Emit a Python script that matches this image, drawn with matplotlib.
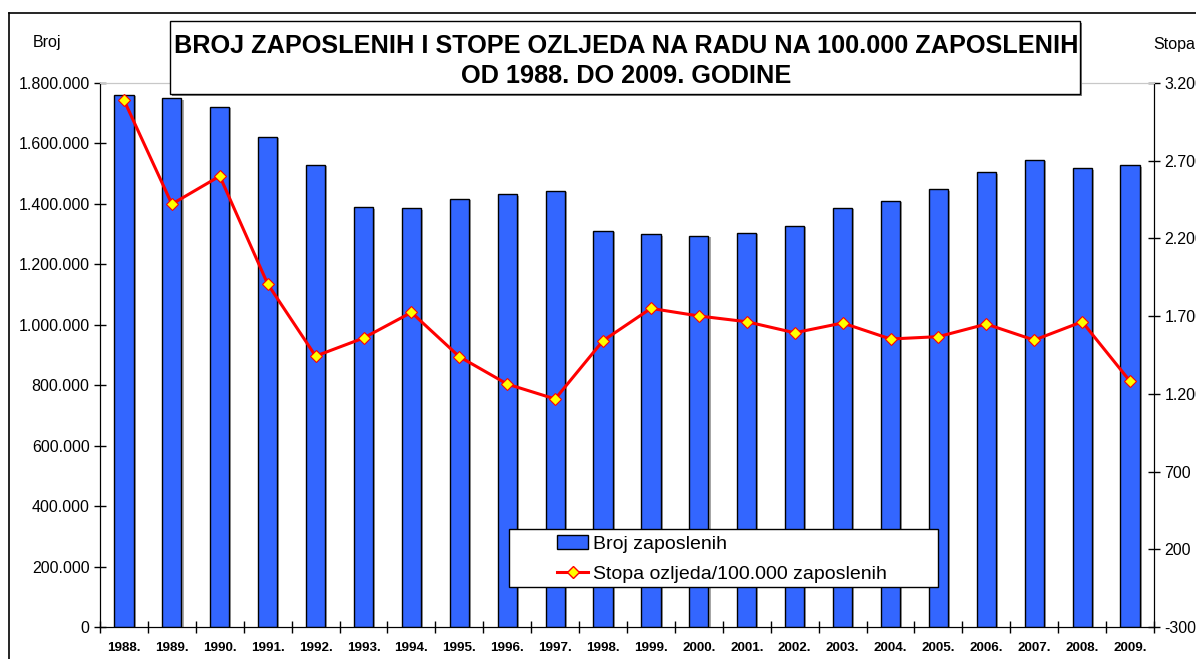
import matplotlib.pyplot as plt
import matplotlib.patheffects as pe
from matplotlib.patches import Rectangle, Patch
from matplotlib.lines import Line2D
from matplotlib.ticker import FuncFormatter, FixedLocator
import numpy as np

plt.rcParams['font.family'] = ['Liberation Sans', 'DejaVu Sans']

years = ['1988.', '1989.', '1990.', '1991.', '1992.', '1993.', '1994.', '1995.',
         '1996.', '1997.', '1998.', '1999.', '2000.', '2001.', '2002.', '2003.',
         '2004.', '2005.', '2006.', '2007.', '2008.', '2009.']
zaposleni = [1760000, 1750000, 1721000, 1621000, 1529000, 1389000, 1385000, 1416000,
             1432000, 1443000, 1311000, 1299000, 1295000, 1304000, 1327000, 1388000,
             1411000, 1448000, 1505000, 1545000, 1518000, 1528000]
stopa = [3090, 2421, 2601, 1907, 1443, 1559, 1724, 1439,
         1263, 1167, 1542, 1750, 1701, 1664, 1593, 1656,
         1553, 1568, 1649, 1546, 1664, 1281]

W, H = 1196, 659
fig = plt.figure(figsize=(W / 100, H / 100), dpi=100)


def fx(px):
    return px / W


def fy(py):
    return 1 - py / H


ax = fig.add_axes([fx(100), fy(627), fx(1154) - fx(100), fy(83) - fy(627)])
ax2 = ax.twinx()
ax2.set_zorder(ax.get_zorder() + 1)
ax2.patch.set_visible(False)

x = np.arange(len(years))
bars = ax.bar(x, zaposleni, width=0.4, color='#3366FF', edgecolor='black', linewidth=1,
              zorder=3)
for b in bars:
    b.set_path_effects([pe.SimplePatchShadow(offset=(1.5, -1), shadow_rgbFace='#808080',
                                             alpha=0.7), pe.Normal()])

ax2.plot(x, stopa, color='#FF0000', linewidth=2.2, marker='D', markersize=6.5,
         markerfacecolor='#FFFF00', markeredgecolor='#FF0000', markeredgewidth=0.8)

ax.set_xlim(-0.5, len(years) - 0.5)
ax.set_ylim(0, 1800000)
ax2.set_ylim(-300, 3200)

dot = FuncFormatter(lambda v, p: f'{int(round(v)):,}'.replace(',', '.'))
ax.set_yticks(np.arange(0, 1800001, 200000))
ax.yaxis.set_major_formatter(dot)
ax2.set_yticks(np.arange(-300, 3201, 500))
ax2.yaxis.set_major_formatter(dot)

ax.xaxis.set_major_locator(FixedLocator(np.arange(-0.5, len(years), 1)))
ax.xaxis.set_major_formatter(FuncFormatter(lambda v, p: ''))
ax.set_xticks(x, minor=True)
ax.set_xticklabels(years, minor=True, fontweight='bold', fontsize=9.6)
ax.tick_params(axis='x', which='minor', length=0, pad=11)
ax.tick_params(axis='x', which='major', direction='inout', length=9, width=1)
ax.tick_params(axis='y', direction='inout', length=9, width=1, labelsize=11.5, pad=3)
ax2.tick_params(axis='y', direction='inout', length=9, width=1, labelsize=11.5, pad=3)

for a in (ax, ax2):
    a.spines['top'].set_color('#c8c8c8')
    for s in ('left', 'right', 'bottom'):
        a.spines[s].set_color('black')

# outer frame of the chart area
fig.add_artist(Line2D([fx(9), fx(9)], [fy(13), 0], color='black', lw=1.2))
fig.add_artist(Line2D([fx(9), 1], [fy(13), fy(13)], color='black', lw=1.2))

fig.text(fx(33), fy(43), 'Broj', fontsize=11.5, va='center', ha='left')
fig.text(fx(1153), fy(45), 'Stopa', fontsize=11.5, va='center', ha='left')

# title box
fig.add_artist(Rectangle((fx(172), fy(96)), fx(1082) - fx(172), fy(23) - fy(96),
                         transform=fig.transFigure, facecolor='#808080',
                         edgecolor='none', zorder=9))
fig.add_artist(Rectangle((fx(170), fy(94)), fx(1080) - fx(170), fy(21) - fy(94),
                         transform=fig.transFigure, facecolor='white',
                         edgecolor='black', lw=1, zorder=10))
fig.text(fx(626), fy(46), 'BROJ ZAPOSLENIH I STOPE OZLJEDA NA RADU NA 100.000 ZAPOSLENIH',
         ha='center', va='center', fontsize=18.2, fontweight='bold', zorder=11)
fig.text(fx(626), fy(76), 'OD 1988. DO 2009. GODINE',
         ha='center', va='center', fontsize=18.2, fontweight='bold', zorder=11)

# legend box
fig.add_artist(Rectangle((fx(509), fy(587)), fx(938) - fx(509), fy(529) - fy(587),
                         transform=fig.transFigure, facecolor='white',
                         edgecolor='black', lw=1, zorder=10))
handles = [Patch(facecolor='#3366FF', edgecolor='black', lw=1),
           Line2D([], [], color='#FF0000', lw=2.2, marker='D', markersize=6.5,
                  markerfacecolor='#FFFF00', markeredgecolor='#FF0000')]
leg = fig.legend(handles, ['Broj zaposlenih', 'Stopa ozljeda/100.000 zaposlenih'],
                 loc='center left', bbox_to_anchor=(fx(557), fy(559)), frameon=False,
                 fontsize=14, handlelength=1.6, handletextpad=0.25, labelspacing=0.65,
                 borderaxespad=0, borderpad=0)
leg.set_zorder(11)

fig.savefig('out.png', dpi=100)
